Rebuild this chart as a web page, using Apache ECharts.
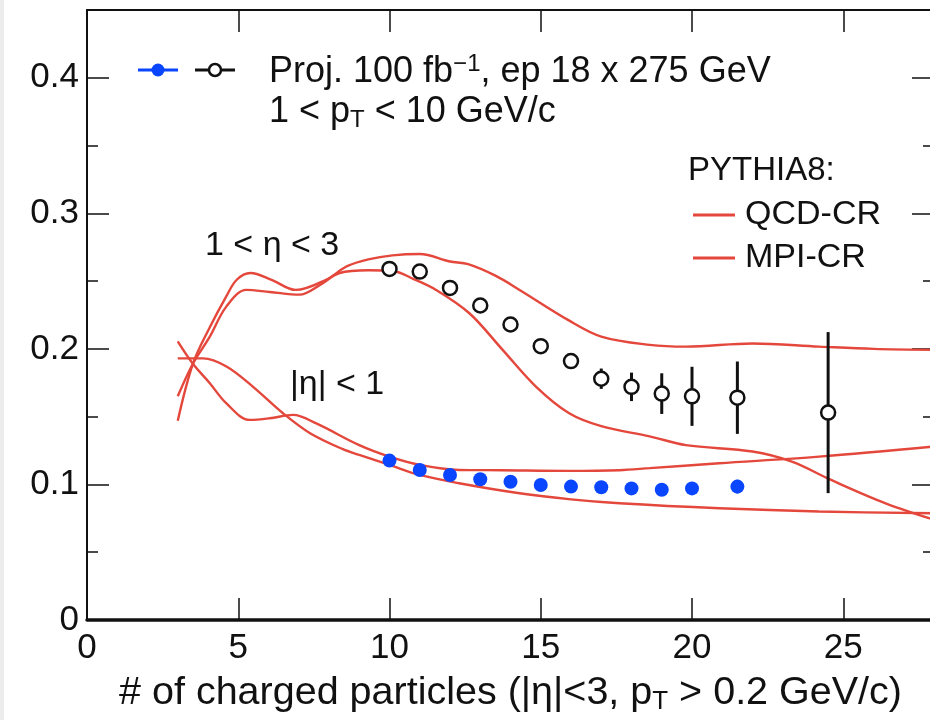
<!DOCTYPE html>
<html>
<head>
<meta charset="utf-8">
<script src="https://cdn.jsdelivr.net/npm/echarts@6/dist/echarts.min.js"></script>
<style>
  html, body { margin: 0; padding: 0; background: #fff; overflow: hidden; }
  #chart { width: 940px; height: 720px; }
</style>
</head>
<body>
<div id="chart"></div>
<script>
// Projected data: forward region (1 < eta < 3), open markers
const fwdNch = [10, 11, 12, 13, 14, 15, 16, 17, 18, 19, 20, 21.5, 24.5];
const fwdRatio = [0.259, 0.257, 0.245, 0.232, 0.218, 0.202, 0.191, 0.178, 0.172, 0.167, 0.165, 0.164, 0.153];
const fwdErr = [0, 0, 0, 0, 0, 0.002, 0.0055, 0.0075, 0.0105, 0.015, 0.0218, 0.0267, 0.0594];

// Projected data: central region (|eta| < 1), filled markers
const midNch = [10, 11, 12, 13, 14, 15, 16, 17, 18, 19, 20, 21.5];
const midRatio = [0.1176, 0.1107, 0.107, 0.1038, 0.102, 0.0996, 0.0984, 0.0979, 0.0971, 0.0961, 0.0971, 0.0984];
const midErr = [0, 0, 0, 0, 0, 0, 0, 0, 0, 0, 0, 0.005];

// PYTHIA8 curves, forward region
const qcdFwdX = [3.0, 3.5, 4.06, 4.6, 4.95, 5.4, 6.1, 6.9, 7.9, 8.6, 9.3, 10.1, 11.0, 12.0, 12.6, 13.5, 14.3, 15.9, 17.0, 18.6, 19.8, 22.0, 24.2, 26.0, 28.0];
const qcdFwdY = [0.147, 0.189, 0.216, 0.2386, 0.251, 0.256, 0.251, 0.2435, 0.251, 0.261, 0.266, 0.269, 0.270, 0.2645, 0.2625, 0.254, 0.2435, 0.2214, 0.2091, 0.203, 0.2017, 0.204, 0.2017, 0.200, 0.1993];
const mpiFwdX = [3.0, 3.5, 4.06, 4.6, 5.27, 6.04, 7.03, 7.69, 8.35, 9.3, 10.1, 10.8, 11.54, 12.64, 13.74, 14.84, 15.94, 17.0, 18.6, 19.8, 22.0, 23.3, 24.6, 26.4, 28.0];
const mpiFwdY = [0.165, 0.189, 0.209, 0.231, 0.2435, 0.242, 0.240, 0.247, 0.256, 0.258, 0.2575, 0.2515, 0.2435, 0.2263, 0.1993, 0.1722, 0.1525, 0.143, 0.1355, 0.129, 0.1243, 0.1168, 0.1033, 0.0861, 0.074];

// PYTHIA8 curves, central region
const qcdMidX = [3.0, 3.5, 4.06, 4.6, 5.38, 6.04, 6.81, 7.58, 9.0, 10.0, 11.0, 12.3, 13.7, 15.9, 17.6, 18.6, 20.9, 24.2, 28.0];
const qcdMidY = [0.2055, 0.189, 0.1747, 0.160, 0.1476, 0.1488, 0.1513, 0.145, 0.129, 0.1205, 0.1144, 0.1107, 0.1105, 0.110, 0.1105, 0.112, 0.1156, 0.1205, 0.128];
const mpiMidX = [3.0, 3.84, 4.61, 5.49, 6.48, 7.36, 8.46, 9.0, 10.0, 11.0, 12.3, 14.3, 16.0, 17.6, 20.9, 24.2, 28.0];
const mpiMidY = [0.193, 0.193, 0.187, 0.172, 0.1525, 0.138, 0.126, 0.1218, 0.1144, 0.107, 0.1009, 0.0935, 0.089, 0.0861, 0.0824, 0.080, 0.0787];

// Axis settings
const xMin = 0, xMax = 28, xStep = 5;
const yMin = 0, yMax = 0.45, yStep = 0.1;

const FONT = "'Liberation Sans', Arial, Helvetica, sans-serif";
const RED = '#e4473b';
const BLUE = '#0a46ff';
const INK = '#111111';

const zip = (xs, ys) => xs.map((x, i) => [x, ys[i]]);
const bars = (xs, ys, es) => xs.map((x, i) => [x, ys[i] - es[i], ys[i] + es[i]]).filter((d, i) => es[i] > 0);

function errorBarSeries(data, color, width) {
  return {
    type: 'custom',
    data: data,
    encode: { x: 0, y: [1, 2] },
    z: 3,
    silent: true,
    renderItem: function (params, api) {
      const lo = api.coord([api.value(0), api.value(1)]);
      const hi = api.coord([api.value(0), api.value(2)]);
      return {
        type: 'line',
        shape: { x1: lo[0], y1: lo[1], x2: hi[0], y2: hi[1] },
        style: { stroke: color, lineWidth: width }
      };
    }
  };
}

function curve(name, xs, ys) {
  return {
    name: name,
    type: 'line',
    data: zip(xs, ys),
    smooth: 0.35,
    symbol: 'none',
    clip: true,
    z: 2,
    silent: true,
    lineStyle: { color: RED, width: 2.4 },
    itemStyle: { color: RED }
  };
}

function label(x, y, text, size, rich) {
  return {
    type: 'text', x: x, y: y, silent: true,
    style: {
      text: text, fontFamily: FONT, fontSize: size, fill: INK,
      verticalAlign: 'middle', align: 'left', lineHeight: size + 4,
      rich: rich || {}
    }
  };
}

const chart = echarts.init(document.getElementById('chart'), null, { renderer: 'canvas' });

const axisCommon = {
  type: 'value',
  splitLine: { show: false },
  axisLine: { show: true, onZero: false, lineStyle: { color: INK, width: 2 } }
};

const supStyle = { fontFamily: FONT, fontSize: 24, fill: INK, verticalAlign: 'top', lineHeight: 10 };
const subStyle = { fontFamily: FONT, fontSize: 24, fill: INK, verticalAlign: 'bottom', lineHeight: 14 };

const option = {
  backgroundColor: '#ffffff',
  animation: false,
  grid: { left: 87, top: 10, width: 847, height: 610, containLabel: false },
  legend: {
    orient: 'vertical',
    left: 688,
    top: 193,
    itemWidth: 42,
    itemHeight: 3,
    itemGap: 9,
    icon: 'rect',
    selectedMode: false,
    data: ['QCD-CR', 'MPI-CR'],
    textStyle: { fontFamily: FONT, fontSize: 34, color: INK, padding: [0, 0, 0, 5] }
  },
  xAxis: [
    Object.assign({}, axisCommon, {
      position: 'bottom',
      min: xMin, max: xMax, interval: xStep,
      axisLine: { show: true, onZero: false, lineStyle: { color: INK, width: 3.5 } },
      axisTick: { show: true, inside: true, length: 22, lineStyle: { color: INK, width: 1.5 } },
      axisLabel: { show: true, showMaxLabel: false, margin: 11, fontFamily: FONT, fontSize: 35, color: INK },
      name: '# of charged particles (|η|<3, p{sub|T} > 0.2 GeV/c)',
      nameLocation: 'middle',
      nameGap: 48,
      nameTextStyle: {
        fontFamily: FONT, fontSize: 39.5, color: INK, lineHeight: 44,
        rich: { sub: { fontFamily: FONT, fontSize: 26, color: INK, verticalAlign: 'bottom', lineHeight: 16 } }
      }
    }),
    Object.assign({}, axisCommon, {
      position: 'top',
      min: xMin, max: xMax, interval: xStep,
      axisTick: { show: true, inside: true, length: 22, lineStyle: { color: INK, width: 1.5 } },
      axisLabel: { show: false }
    })
  ],
  yAxis: [
    Object.assign({}, axisCommon, {
      position: 'left',
      min: yMin, max: yMax, interval: yStep,
      axisTick: { show: true, inside: true, length: 22, lineStyle: { color: INK, width: 1.5 } },
      minorTick: { show: true, splitNumber: 2, length: 11, lineStyle: { color: INK, width: 1.5 } },
      axisLabel: {
        show: true, showMaxLabel: false, margin: 8, fontFamily: FONT, fontSize: 35, color: INK,
        formatter: v => (v === 0 ? '0' : v.toFixed(1))
      }
    }),
    Object.assign({}, axisCommon, {
      position: 'right',
      min: yMin, max: yMax, interval: yStep,
      axisTick: { show: true, inside: true, length: 22, lineStyle: { color: INK, width: 1.5 } },
      minorTick: { show: true, splitNumber: 2, length: 11, lineStyle: { color: INK, width: 1.5 } },
      axisLabel: { show: false }
    })
  ],
  series: [
    curve('QCD-CR', qcdFwdX, qcdFwdY),
    curve('MPI-CR', mpiFwdX, mpiFwdY),
    curve('QCD-CR', qcdMidX, qcdMidY),
    curve('MPI-CR', mpiMidX, mpiMidY),
    errorBarSeries(bars(fwdNch, fwdRatio, fwdErr), INK, 3),
    errorBarSeries(bars(midNch, midRatio, midErr), BLUE, 3),
    {
      name: 'fwd',
      type: 'scatter',
      data: zip(fwdNch, fwdRatio),
      symbol: 'circle',
      symbolSize: 14,
      z: 4,
      silent: true,
      itemStyle: { color: '#ffffff', borderColor: INK, borderWidth: 2.5, opacity: 1 }
    },
    {
      name: 'mid',
      type: 'scatter',
      data: zip(midNch, midRatio),
      symbol: 'circle',
      symbolSize: 14,
      z: 4,
      silent: true,
      itemStyle: { color: BLUE, opacity: 1 }
    }
  ],
  graphic: [
    // faint page edge
    { type: 'rect', left: 0, top: 0, shape: { width: 4, height: 720 }, style: { fill: '#ececec' }, silent: true },
    // data legend markers
    { type: 'line', shape: { x1: 138, y1: 70, x2: 178, y2: 70 }, style: { stroke: BLUE, lineWidth: 3 }, silent: true },
    { type: 'circle', shape: { cx: 158, cy: 70, r: 6.5 }, style: { fill: BLUE }, silent: true },
    { type: 'line', shape: { x1: 195, y1: 70, x2: 208, y2: 70 }, style: { stroke: INK, lineWidth: 3 }, silent: true },
    { type: 'line', shape: { x1: 222, y1: 70, x2: 235, y2: 70 }, style: { stroke: INK, lineWidth: 3 }, silent: true },
    { type: 'circle', shape: { cx: 215, cy: 70, r: 6 }, style: { fill: '#fff', stroke: INK, lineWidth: 2.5 }, silent: true },
    label(269, 72, 'Proj. 100 fb{sup|−1}, ep 18 x 275 GeV', 36, { sup: supStyle }),
    label(269, 112, '1 < p{sub|T} < 10 GeV/c', 36, { sub: subStyle }),
    label(688, 171, 'PYTHIA8:', 33),
    label(205, 246, '1 < η < 3', 34),
    label(290, 385, '|η| < 1', 34)
  ]
};

chart.setOption(option);
</script>
</body>
</html>
